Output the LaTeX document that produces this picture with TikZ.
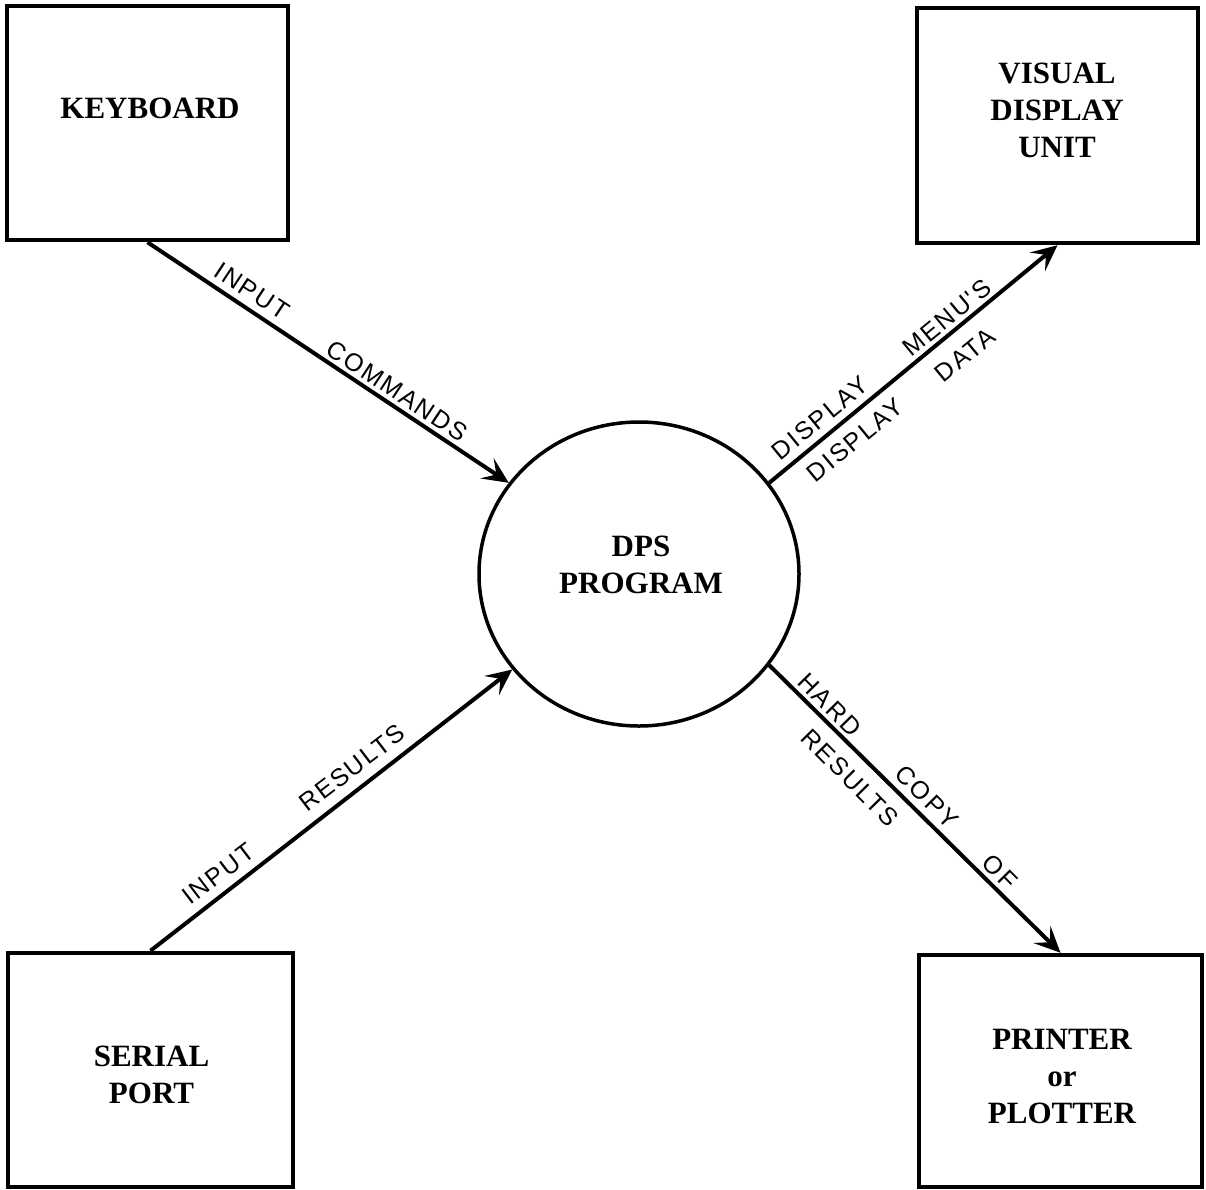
\documentclass[tikz,border=0pt]{standalone}
\usepackage{fontspec}
\setmainfont{Liberation Serif}
\newfontfamily\handfont[LetterSpace=8]{Liberation Sans}
\usetikzlibrary{shapes.geometric,arrows.meta}
\begin{document}
\begin{tikzpicture}[x=1pt,y=-1pt,
  unitbox/.style={draw, rectangle, line width=4.5pt, inner sep=0pt},
  boxtext/.style={font=\fontsize{31}{37}\selectfont\bfseries, align=center, inner sep=0pt},
  process/.style={draw, ellipse, line width=3.5pt, minimum width=320pt, minimum height=304pt, inner sep=0pt},
  flow/.style={line width=4pt, -{Stealth[length=26pt,width=24pt,inset=11pt]}},
  flowlabel/.style={font=\handfont\fontsize{25}{30}\selectfont, inner sep=0pt}]
\useasboundingbox (0,0) rectangle (1206,1189);

% external units
\node[unitbox, minimum width=281pt, minimum height=234pt] (kb) at (147.5,123) {};
\node[unitbox, minimum width=281pt, minimum height=235pt] (vdu) at (1057.5,125.5) {};
\node[unitbox, minimum width=285pt, minimum height=234pt] (serial) at (150.5,1070) {};
\node[unitbox, minimum width=283pt, minimum height=232pt] (printer) at (1060.5,1071) {};

\node[boxtext] (kbtext) at (150,108) {KEYBOARD};
\node[boxtext] (vdutext) at (1057,110.5) {VISUAL\\DISPLAY\\UNIT};
\node[boxtext] (serialtext) at (151.5,1075) {SERIAL\\PORT};
\node[boxtext] (printertext) at (1062,1076.5) {PRINTER\\or\\PLOTTER};

% central process
\node[process] (dps) at (639,574) {};
\node[boxtext] (dpstext) at (641,565) {DPS\\PROGRAM};

% data flows
\draw[flow] (kb.south) -- (dps.145);
\draw[flow] (dps.35) -- (vdu.south);
\draw[flow] (serial.north) -- (dps.217);
\draw[flow] (dps.-35) -- (printer.north);

% flow labels
\node[flowlabel, rotate=-33.5] (l1a) at (252,291) {INPUT};
\node[flowlabel, rotate=-33.5] (l1b) at (397,391) {COMMANDS};

\node[flowlabel, rotate=39.4] (l2a) at (820,418) {DISPLAY};
\node[flowlabel, rotate=39.4] (l2b) at (947,318) {MENU'S};
\node[flowlabel, rotate=39.4] (l2c) at (855,440) {DISPLAY};
\node[flowlabel, rotate=39.4] (l2d) at (965,355) {DATA};

\node[flowlabel, rotate=37.3] (l3a) at (218,874) {INPUT};
\node[flowlabel, rotate=37.3] (l3b) at (352,768) {RESULTS};

\node[flowlabel, rotate=-45.4] (l4a) at (830,705) {HARD};
\node[flowlabel, rotate=-45.4] (l4b) at (927,797) {COPY};
\node[flowlabel, rotate=-45.4] (l4c) at (1000,872) {OF};
\node[flowlabel, rotate=-45.4] (l4d) at (850,778) {RESULTS};
\end{tikzpicture}
\end{document}
